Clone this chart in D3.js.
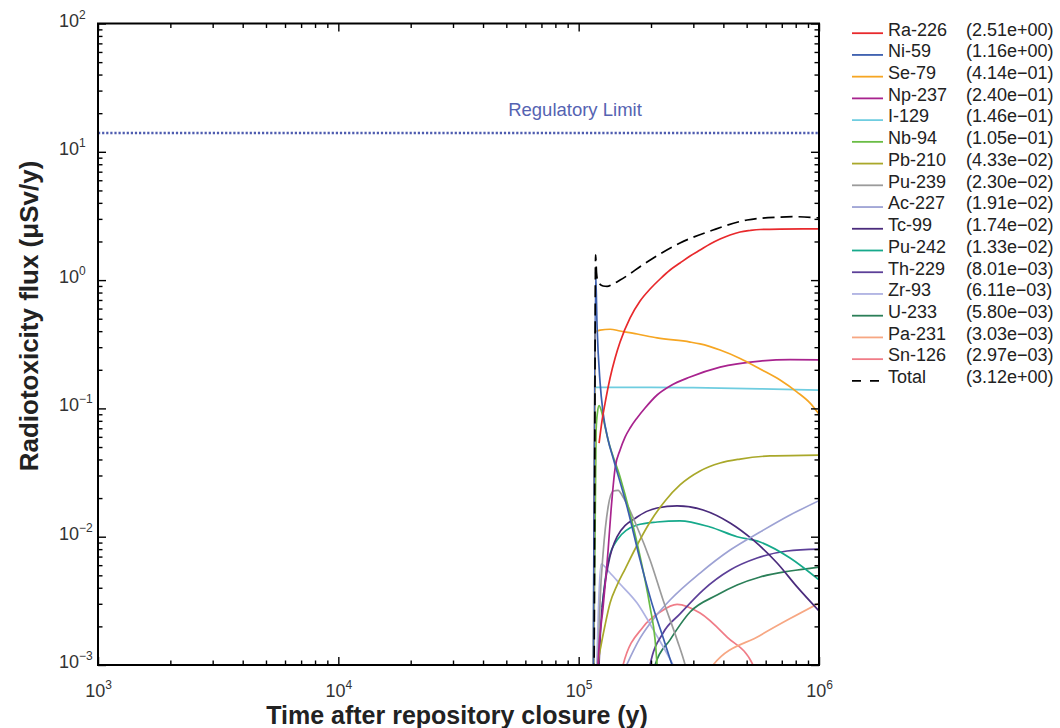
<!DOCTYPE html>
<html>
<head>
<meta charset="utf-8">
<script src="https://cdn.jsdelivr.net/npm/d3@7"></script>
<style>
  body { margin: 0; background: #fff; }
  svg { display: block; font-family: "Liberation Sans", Arial, Helvetica, sans-serif; }
</style>
</head>
<body>
<svg id="chart" width="1060" height="728"></svg>
<script>
// Dose rate contributions per nuclide, [time (y), flux (µSv/y)]
const ra226 = [[1.216e5,0.0537],[1.252e5,0.0812],[1.288e5,0.110],[1.351e5,0.1726],[1.418e5,0.247],[1.487e5,0.329],[1.637e5,0.507],[1.801e5,0.687],[1.982e5,0.852],[2.182e5,1.020],[2.401e5,1.198],[2.64e5,1.359],[2.908e5,1.541],[3.20e5,1.716],[3.523e5,1.911],[3.876e5,2.091],[4.267e5,2.246],[4.696e5,2.371],[5.168e5,2.436],[5.687e5,2.480],[6.887e5,2.50],[1e6,2.51]];
const ni59 = [[1.150e5,5e-4],[1.176e5,1.16],[1.193e5,0.431],[1.228e5,0.158],[1.264e5,0.092],[1.326e5,0.0567],[1.391e5,0.041],[1.591e5,0.0170],[1.801e5,0.0066],[2.039e5,0.00283],[2.245e5,0.00164],[2.448e5,1e-3],[2.70e5,6e-4]];
const se79 = [[1.150e5,5e-4],[1.170e5,0.394],[1.228e5,0.408],[1.351e5,0.414],[1.487e5,0.401],[1.75e5,0.380],[2.12e5,0.354],[2.908e5,0.329],[3.20e5,0.318],[3.876e5,0.285],[4.696e5,0.245],[5.687e5,0.203],[6.887e5,0.1665],[8.108e5,0.134],[9.183e5,0.110],[1e6,0.0904]];
const np237 = [[1.196e5,7e-4],[1.204e5,1e-3],[1.264e5,2.83e-3],[1.300e5,5.03e-3],[1.326e5,7.87e-3],[1.364e5,0.01615],[1.418e5,0.0343],[1.487e5,0.0474],[1.560e5,0.0598],[1.637e5,0.0704],[1.75e5,0.0842],[1.889e5,0.1007],[2.12e5,0.1272],[2.401e5,0.1495],[2.908e5,0.1757],[3.876e5,0.210],[5.687e5,0.234],[7.58e5,0.240],[1e6,0.239]];
const i129 = [[1.150e5,5e-4],[1.170e5,0.146],[2.0e5,0.146],[3.0e5,0.145],[5.7e5,0.142],[1e6,0.139]];
const nb94 = [[1.150e5,5e-4],[1.182e5,0.0679],[1.198e5,0.0937],[1.216e5,0.105],[1.240e5,0.0972],[1.264e5,0.0842],[1.326e5,0.0567],[1.487e5,0.0292],[1.75e5,0.00893],[1.982e5,0.00283],[2.08e5,0.00157],[2.12e5,1e-3],[2.16e5,6e-4]];
const pb210 = [[1.19e5,6e-4],[1.204e5,1e-3],[1.240e5,1.43e-3],[1.288e5,2.05e-3],[1.351e5,3.04e-3],[1.445e5,4.20e-3],[1.560e5,5.60e-3],[1.717e5,8.02e-3],[1.982e5,0.01302],[2.288e5,0.0190],[2.64e5,0.0253],[3.20e5,0.0325],[3.876e5,0.0375],[4.696e5,0.0403],[6.258e5,0.0426],[1e6,0.0433]];
const pu239 = [[1.19e5,6e-4],[1.204e5,1e-3],[1.228e5,3.21e-3],[1.264e5,7.46e-3],[1.326e5,0.01704],[1.391e5,0.0227],[1.459e5,0.0230],[1.530e5,0.0204],[1.75e5,0.0119],[1.982e5,6.58e-3],[2.245e5,3.21e-3],[2.568e5,1.57e-3],[2.774e5,1e-3],[2.908e5,7e-4]];
const ac227 = [[1.50e5,8e-4],[1.801e5,1.62e-3],[2.08e5,2.37e-3],[2.40e5,3.21e-3],[3.20e5,5.21e-3],[4.267e5,7.87e-3],[5.687e5,0.01088],[7.58e5,0.01476],[1e6,0.0191]];
const tc99 = [[1.204e5,6.4e-4],[1.240e5,2.24e-3],[1.276e5,3.84e-3],[1.326e5,6.02e-3],[1.445e5,0.0100],[1.75e5,0.01424],[2.12e5,0.01674],[2.568e5,0.0174],[3.294e5,0.01615],[4.267e5,0.01279],[5.317e5,9.43e-3],[6.693e5,6.24e-3],[8.108e5,4.06e-3],[1e6,2.64e-3]];
const pu242 = [[1.252e5,2.83e-3],[1.313e5,5.8e-3],[1.445e5,9.43e-3],[1.75e5,0.01234],[2.12e5,0.01302],[2.64e5,0.0133],[3.523e5,0.0119],[4.563e5,0.0100],[5.687e5,9.09e-3],[7.58e5,6.82e-3],[1e6,4.6e-3]];
const th229 = [[1.945e5,6.4e-4],[1.982e5,1e-3],[2.245e5,1.776e-3],[2.64e5,2.50e-3],[3.294e5,3.84e-3],[4.267e5,5.50e-3],[5.526e5,6.82e-3],[7.365e5,7.74e-3],[1e6,8.01e-3]];
const zr93 = [[1.182e5,6e-4],[1.240e5,6.11e-3],[1.351e5,5.21e-3],[1.487e5,4.28e-3],[1.75e5,3.04e-3],[2.08e5,1.78e-3],[2.471e5,1e-3],[2.64e5,7.7e-4]];
const u233 = [[2.039e5,6.4e-4],[2.08e5,1e-3],[2.40e5,1.57e-3],[2.908e5,2.59e-3],[3.765e5,3.51e-3],[4.563e5,4.20e-3],[5.687e5,4.85e-3],[7.58e5,5.40e-3],[1e6,5.80e-3]];
const pa231 = [[3.523e5,6.4e-4],[3.625e5,1e-3],[5.687e5,1.70e-3],[7.58e5,2.30e-3],[1e6,3.03e-3]];
const sn126 = [[1.501e5,6.4e-4],[1.530e5,1e-3],[1.854e5,1.98e-3],[2.182e5,2.59e-3],[2.568e5,2.97e-3],[3.20e5,2.54e-3],[4.146e5,1.65e-3],[5.317e5,1e-3],[5.526e5,7.7e-4]];
const total = [[1.148e5,6e-4],[1.159e5,1e-3],[1.176e5,1.57],[1.187e5,1.136],[1.204e5,0.967],[1.264e5,0.90],[1.313e5,0.893],[1.391e5,0.932],[1.487e5,1.0],[1.926e5,1.384],[2.64e5,1.946],[3.625e5,2.457],[5.022e5,2.94],[6.887e5,3.10],[7.95e5,3.12],[1e6,3.05]];

// Legend order, peak values and colours
const nuclides = ["Ra-226","Ni-59","Se-79","Np-237","I-129","Nb-94","Pb-210","Pu-239","Ac-227","Tc-99","Pu-242","Th-229","Zr-93","U-233","Pa-231","Sn-126","Total"];
const peakValues = [2.51,1.16,0.414,0.240,0.146,0.105,0.0433,0.0230,0.0191,0.0174,0.0133,0.00801,0.00611,0.00580,0.00303,0.00297,3.12];
const colors = ["#e8292c","#3b5eae","#f6a623","#a8238e","#6fcde0","#6abd45","#a9a82a","#9b9b9b","#9da2d4","#4a2b7c","#16a98b","#5c3f98","#aeb2e2","#2b7f58","#f7a783","#f07c87","#000000"];
const seriesData = [ra226,ni59,se79,np237,i129,nb94,pb210,pu239,ac227,tc99,pu242,th229,zr93,u233,pa231,sn126,total];

const regulatoryLimit = 14;
const xExponents = [3,4,5,6];
const yExponents = [-3,-2,-1,0,1,2];

const svg = d3.select("#chart");
const plotLeft = 98, plotRight = 819, plotTop = 23.5, plotBottom = 665;

const x = d3.scaleLog().domain([1e3, 1e6]).range([plotLeft, plotRight]);
const y = d3.scaleLog().domain([1e-3, 1e2]).range([plotBottom, plotTop]);

const majorX = xExponents.map(e => Math.pow(10, e));
const majorY = yExponents.map(e => Math.pow(10, e));
const minorOf = majors => {
  const out = [];
  for (let i = 0; i < majors.length - 1; i++)
    for (let m = 2; m <= 9; m++) out.push(m * majors[i]);
  return out;
};
const minorX = minorOf(majorX), minorY = minorOf(majorY);

svg.append("defs").append("clipPath").attr("id", "plotClip")
  .append("rect").attr("x", plotLeft).attr("y", plotTop)
  .attr("width", plotRight - plotLeft).attr("height", plotBottom - plotTop);

// Regulatory limit
svg.append("line")
  .attr("x1", plotLeft).attr("x2", plotRight)
  .attr("y1", y(regulatoryLimit)).attr("y2", y(regulatoryLimit))
  .attr("stroke", "#4f5db0").attr("stroke-width", 2.6)
  .attr("stroke-dasharray", "2.2,1.9");
svg.append("text")
  .attr("x", 575).attr("y", 116)
  .attr("text-anchor", "middle")
  .attr("font-size", 18.5).attr("fill", "#5563b2")
  .text("Regulatory Limit");

// Curves (monotone in screen space: no overshoot at the steep release front)
const line = d3.line()
  .x(d => x(d[0])).y(d => y(d[1]))
  .curve(d3.curveMonotoneX);

const curves = svg.append("g").attr("clip-path", "url(#plotClip)");
// draw from the smallest contributions up so the large ones sit on top
for (let i = seriesData.length - 2; i >= 0; i--) {
  curves.append("path")
    .datum(seriesData[i])
    .attr("d", line)
    .attr("fill", "none")
    .attr("stroke", colors[i])
    .attr("stroke-width", 1.7);
}
curves.append("path")
  .datum(total)
  .attr("d", line)
  .attr("fill", "none")
  .attr("stroke", "#000")
  .attr("stroke-width", 1.7)
  .attr("stroke-dasharray", "12,6");

// Axes: inward ticks on all four sides
function addAxis(axisFn, scale, values, size, transform) {
  const g = svg.append("g").attr("transform", transform)
    .call(axisFn(scale).tickValues(values).tickSizeInner(-size).tickSizeOuter(0).tickFormat(() => ""));
  g.select(".domain").remove();
  g.selectAll(".tick line").attr("stroke", "#000").attr("stroke-width", 1.4);
  return g;
}
const xBottom = addAxis(d3.axisBottom, x, majorX, 8, `translate(0,${plotBottom})`);
addAxis(d3.axisBottom, x, minorX, 4.5, `translate(0,${plotBottom})`);
addAxis(d3.axisTop, x, majorX, 8, `translate(0,${plotTop})`);
addAxis(d3.axisTop, x, minorX, 4.5, `translate(0,${plotTop})`);
const yLeft = addAxis(d3.axisLeft, y, majorY, 8, `translate(${plotLeft},0)`);
addAxis(d3.axisLeft, y, minorY, 4.5, `translate(${plotLeft},0)`);
addAxis(d3.axisRight, y, majorY, 8, `translate(${plotRight},0)`);
addAxis(d3.axisRight, y, minorY, 4.5, `translate(${plotRight},0)`);

const supText = e => (e < 0 ? "\u2212" + Math.abs(e) : String(e));

xBottom.selectAll(".tick text").each(function(d) {
  const e = Math.round(Math.log10(d));
  const t = d3.select(this).text(null)
    .attr("y", 32).attr("dy", null)
    .attr("text-anchor", "middle")
    .attr("fill", "#333").attr("font-size", 18);
  t.append("tspan").text("10");
  t.append("tspan").attr("dy", -8).attr("font-size", 12).text(supText(e));
});
yLeft.selectAll(".tick text").each(function(d) {
  const e = Math.round(Math.log10(d));
  const t = d3.select(this).text(null)
    .attr("x", -39).attr("dy", null).attr("y", 2.5)
    .attr("text-anchor", "start")
    .attr("fill", "#333").attr("font-size", 18);
  t.append("tspan").text("10");
  t.append("tspan").attr("dy", -8).attr("font-size", 12).text(supText(e));
});

// Frame
svg.append("rect")
  .attr("x", plotLeft).attr("y", plotTop)
  .attr("width", plotRight - plotLeft).attr("height", plotBottom - plotTop)
  .attr("fill", "none").attr("stroke", "#000").attr("stroke-width", 2);

// Axis titles
svg.append("text")
  .attr("x", 457).attr("y", 724)
  .attr("text-anchor", "middle")
  .attr("font-size", 25).attr("font-weight", "bold").attr("fill", "#222")
  .text("Time after repository closure (y)");
svg.append("text")
  .attr("transform", "translate(38,316) rotate(-90)")
  .attr("text-anchor", "middle")
  .attr("font-size", 26).attr("font-weight", "bold").attr("fill", "#222")
  .text("Radiotoxicity flux (\u03bcSv/y)");

// Legend
const fmtPeak = v => {
  const [m, e] = v.toExponential(2).split("e");
  const n = +e;
  return "(" + m + "e" + (n < 0 ? "\u2212" : "+") + String(Math.abs(n)).padStart(2, "0") + ")";
};
const legend = svg.append("g");
nuclides.forEach((name, i) => {
  const base = 35.5 + i * 21.73;
  legend.append("line")
    .attr("x1", 852).attr("x2", 883)
    .attr("y1", base - 2.3).attr("y2", base - 2.3)
    .attr("stroke", colors[i]).attr("stroke-width", 1.8)
    .attr("stroke-dasharray", name === "Total" ? "9,9" : null);
  legend.append("text").attr("x", 888).attr("y", base)
    .attr("font-size", 18).attr("fill", "#222").text(name);
  legend.append("text").attr("x", 966).attr("y", base)
    .attr("font-size", 18).attr("fill", "#222").text(fmtPeak(peakValues[i]));
});
</script>
</body>
</html>
